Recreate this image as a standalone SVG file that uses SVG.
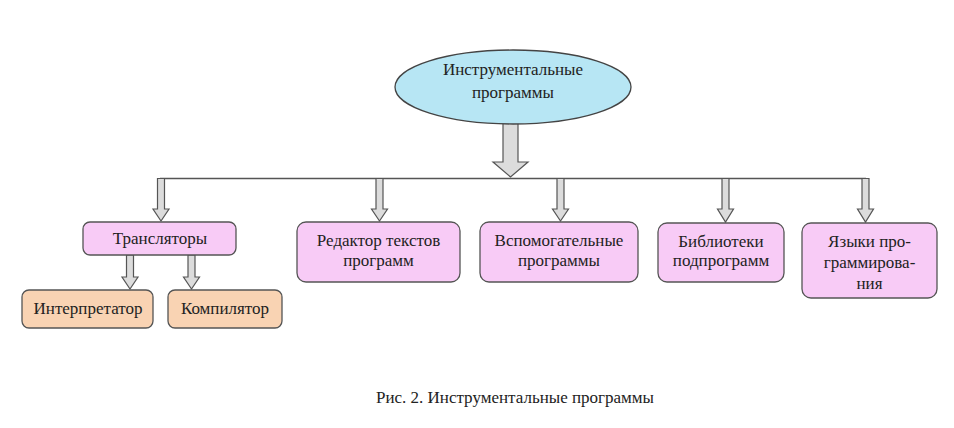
<svg xmlns="http://www.w3.org/2000/svg" width="954" height="428" viewBox="0 0 954 428">
<style>
text{font-family:'Liberation Serif','DejaVu Serif',serif;font-size:17px;fill:#222;text-anchor:middle}
.pink{fill:#f8cbf6;stroke:#555;stroke-width:1.3}
.orange{fill:#f9d3b3;stroke:#555;stroke-width:1.3}
.arr{fill:#dcdcdc;stroke:#555;stroke-width:1.2}
.ln{stroke:#555;stroke-width:1.5;fill:none}
</style>
<rect width="954" height="428" fill="#fff"/>
<g id="connectors">
<path class="ln" d="M160 178.5 H866"/>
<path class="arr" d="M503 123 H518 V162 H528 L510.5 177 L493 162 H503 Z"/>
<path class="arr" d="M157.5 178.5 H164.5 V209 H169 L161 221 L153 209 H157.5 Z"/>
<path class="arr" d="M376 178.5 H383 V209 H387.5 L379.5 221 L371.5 209 H376 Z"/>
<path class="arr" d="M557 178.5 H564 V209 H568.5 L560.5 221 L552.5 209 H557 Z"/>
<path class="arr" d="M722 178.5 H729 V209 H733.5 L725.5 222 L717.5 209 H722 Z"/>
<path class="arr" d="M862 178.5 H869 V209 H873.5 L865.5 222 L857.5 209 H862 Z"/>
<path class="arr" d="M126.5 255 H133.5 V277 H138 L130 289 L122 277 H126.5 Z"/>
<path class="arr" d="M188 255 H195 V277 H199.5 L191.5 289 L183.5 277 H188 Z"/>
</g>
<g id="root">
<ellipse cx="513" cy="87" rx="118" ry="37" fill="#b7e6f4" stroke="#444" stroke-width="1.3"/>
<text x="513" y="75" font-family="Liberation Serif, serif">Инструментальные</text>
<text x="513" y="98" font-family="Liberation Serif, serif">программы</text>
</g>
<g id="translators">
<rect class="pink" x="83" y="222" width="153" height="33" rx="7"/>
<text x="160" y="244" font-family="Liberation Serif, serif">Трансляторы</text>
</g>
<g id="interpreter">
<rect class="orange" x="22" y="290" width="131" height="38" rx="7"/>
<text x="88" y="314" font-family="Liberation Serif, serif">Интерпретатор</text>
</g>
<g id="compiler">
<rect class="orange" x="168" y="290" width="114" height="38" rx="7"/>
<text x="225" y="314" font-family="Liberation Serif, serif">Компилятор</text>
</g>
<g id="editor">
<rect class="pink" x="297" y="222" width="163" height="60" rx="9"/>
<text x="378.5" y="246" font-family="Liberation Serif, serif">Редактор текстов</text>
<text x="378.5" y="266" font-family="Liberation Serif, serif">программ</text>
</g>
<g id="aux">
<rect class="pink" x="480" y="222" width="158" height="60" rx="9"/>
<text x="559" y="246" font-family="Liberation Serif, serif">Вспомогательные</text>
<text x="559" y="266" font-family="Liberation Serif, serif">программы</text>
</g>
<g id="libs">
<rect class="pink" x="658" y="223" width="126" height="59" rx="9"/>
<text x="721" y="247" font-family="Liberation Serif, serif">Библиотеки</text>
<text x="721" y="266" font-family="Liberation Serif, serif">подпрограмм</text>
</g>
<g id="langs">
<rect class="pink" x="802" y="223" width="135" height="75" rx="9"/>
<text x="869.5" y="247" font-family="Liberation Serif, serif">Языки про-</text>
<text x="869.5" y="268" font-family="Liberation Serif, serif">граммирова-</text>
<text x="869.5" y="289" font-family="Liberation Serif, serif">ния</text>
</g>
<text x="515" y="403" font-family="Liberation Serif, serif">Рис. 2. Инструментальные программы</text>
</svg>
